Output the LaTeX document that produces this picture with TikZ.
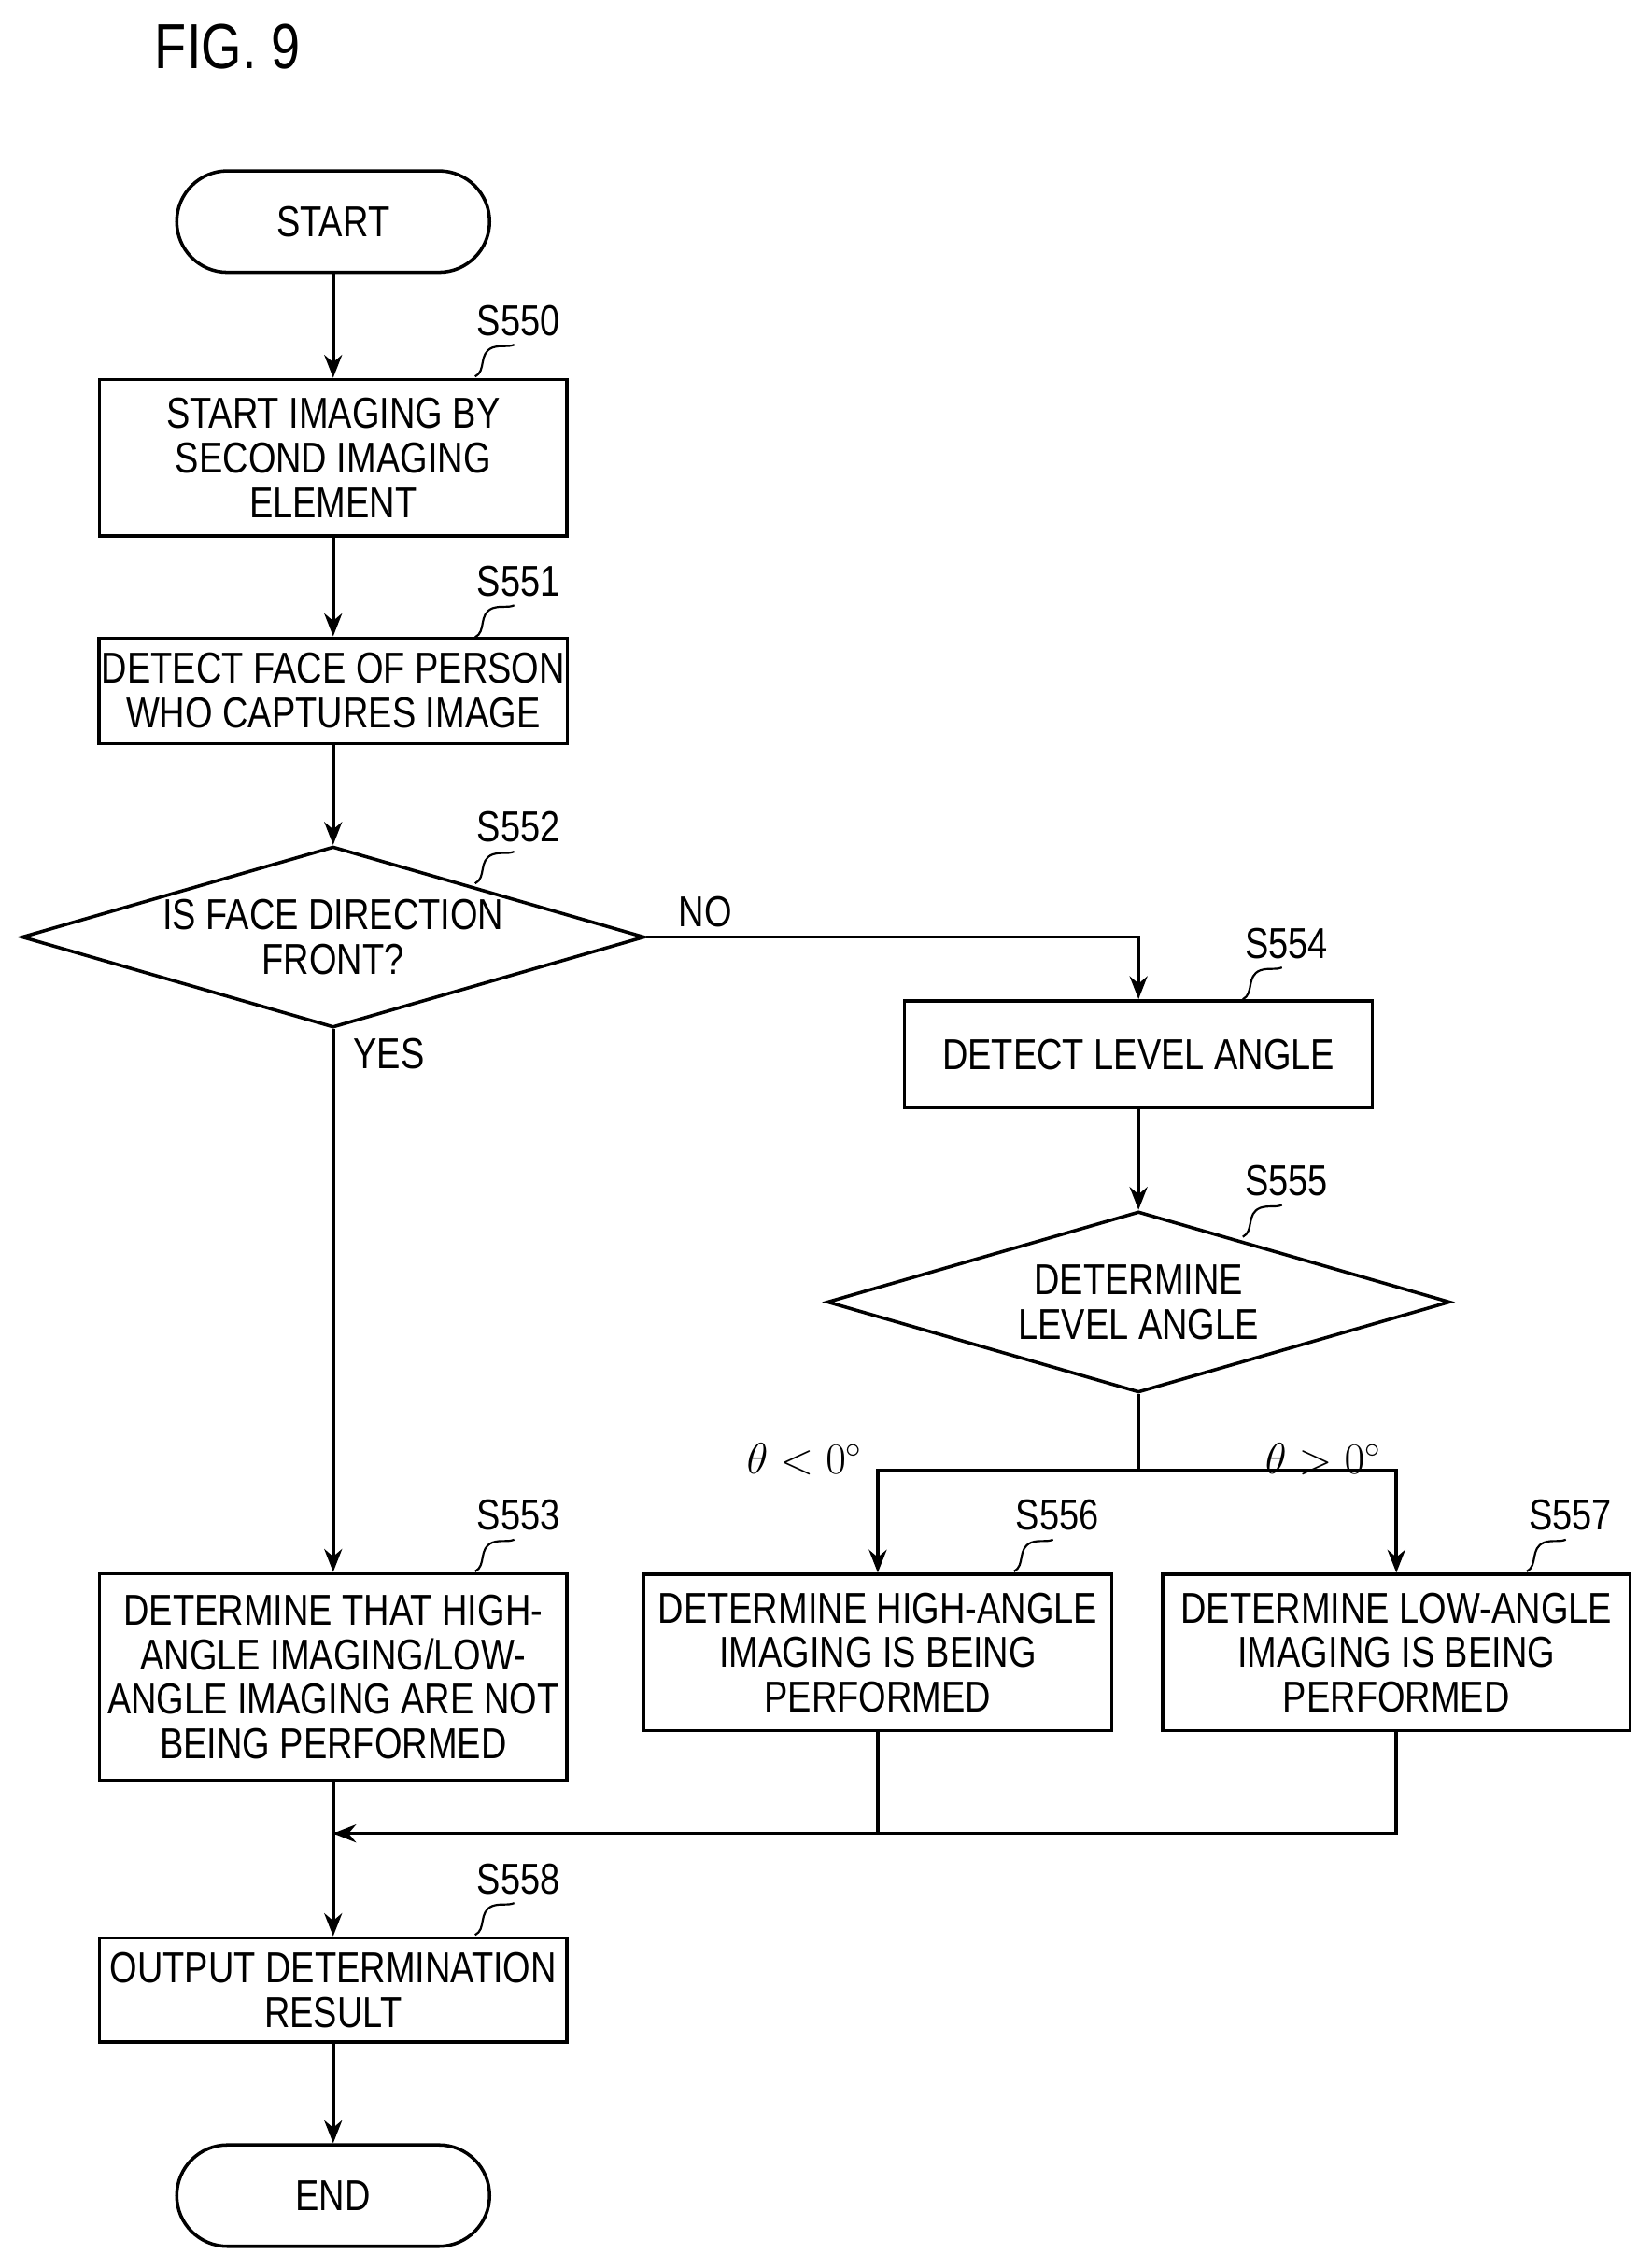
\documentclass[tikz,border=0pt]{standalone}
\usepackage{fontspec}
\setmainfont{Liberation Sans}[FakeStretch=0.82]
\usetikzlibrary{shapes.geometric,arrows.meta}
\tikzset{
  procbox/.style={draw, line width=1.3pt, minimum width=6.46cm, align=center, inner sep=1pt, font=\fontsize{17}{17.5}\selectfont},
  term/.style={draw, line width=1.3pt, rounded corners=0.7cm, minimum width=4.32cm, minimum height=1.4cm, font=\fontsize{17}{18}\selectfont},
  test/.style={draw, line width=1.3pt, diamond, aspect=3.44, inner sep=0pt, minimum width=8.6cm, minimum height=2.5cm, align=center, font=\fontsize{17}{17.5}\selectfont},
  tag/.style={font=\fontsize{17}{18}\selectfont},
  line/.style={line width=1.3pt},
  flow/.style={line, -{Stealth[length=9pt,width=7pt]}}
}
\newcommand{\steptag}[3]{% tag with a small wave: anchor x, anchor y, label
  \draw[line width=0.8pt] (#1,#2) .. controls (#1+8,#2-4) and (#1+2,#2-16) .. (#1+12,#2-20)
    .. controls (#1+18,#2-22) and (#1+22,#2-20) .. (#1+27,#2-22);
  \node[tag, anchor=south] at (#1+30,#2-22) {#3};
}
\begin{document}
\begin{tikzpicture}[x=0.02cm, y=-0.02cm]
  \useasboundingbox (0,0) rectangle (1140,1566);
  % title
  \node[font=\fontsize{25}{26}\selectfont] (fig) at (157,32) {FIG. 9};
  % left column
  \node[term] (start) at (230,153) {START};
  \node[procbox, minimum height=2.16cm] (s550) at (230,316) {START IMAGING BY\\SECOND IMAGING\\ELEMENT};
  \node[procbox, minimum height=1.46cm] (s551) at (230,477) {DETECT FACE OF PERSON\\WHO CAPTURES IMAGE};
  \node[test] (s552) at (230,647) {IS FACE DIRECTION\\FRONT?};
  \node[procbox, minimum height=2.86cm] (s553) at (230,1158) {DETERMINE THAT HIGH-\\ANGLE IMAGING/LOW-\\ANGLE IMAGING ARE NOT\\BEING PERFORMED};
  \node[procbox, minimum height=1.44cm] (s558) at (230,1374) {OUTPUT DETERMINATION\\RESULT};
  \node[term] (end) at (230,1516) {END};
  % right column
  \node[procbox, minimum height=1.48cm] (s554) at (786,728) {DETECT LEVEL ANGLE};
  \node[test] (s555) at (786,899) {DETERMINE\\LEVEL ANGLE};
  \node[procbox, minimum height=2.16cm] (s556) at (606,1141) {DETERMINE HIGH-ANGLE\\IMAGING IS BEING\\PERFORMED};
  \node[procbox, minimum height=2.16cm] (s557) at (964,1141) {DETERMINE LOW-ANGLE\\IMAGING IS BEING\\PERFORMED};
  \coordinate (fork) at (786,1015);
  \coordinate (merge) at (230,1266);
  % step tags
  \steptag{328}{260}{S550}
  \steptag{328}{440}{S551}
  \steptag{328}{610}{S552}
  \steptag{858}{690}{S554}
  \steptag{858}{854}{S555}
  \steptag{328}{1085}{S553}
  \steptag{700}{1085}{S556}
  \steptag{1054}{1085}{S557}
  \steptag{328}{1336}{S558}
  % edges
  \draw[flow] (start) -- (s550);
  \draw[flow] (s550) -- (s551);
  \draw[flow] (s551) -- (s552);
  \draw[flow] (s552.south) -- node[tag, pos=0.045, anchor=west, xshift=4pt] {YES} (s553);
  \draw[flow] (s552.east) -| node[tag, pos=0.06, anchor=south] {NO} (s554);
  \draw[flow] (s554) -- (s555);
  \draw[line] (s555.south) -- (fork);
  \draw[flow] (fork) -| node[tag, pos=0.6, anchor=south east, yshift=2pt, xshift=-2pt] {$\theta<0^\circ$} (s556);
  \draw[flow] (fork) -| node[tag, pos=0.6, anchor=south east, yshift=2pt, xshift=-2pt] {$\theta>0^\circ$} (s557);
  \draw[line] (s553) -- (merge);
  \draw[line] (s556) |- (merge);
  \draw[flow] (s557) |- (merge);
  \draw[flow] (merge) -- (s558);
  \draw[flow] (s558) -- (end);
\end{tikzpicture}
\end{document}
